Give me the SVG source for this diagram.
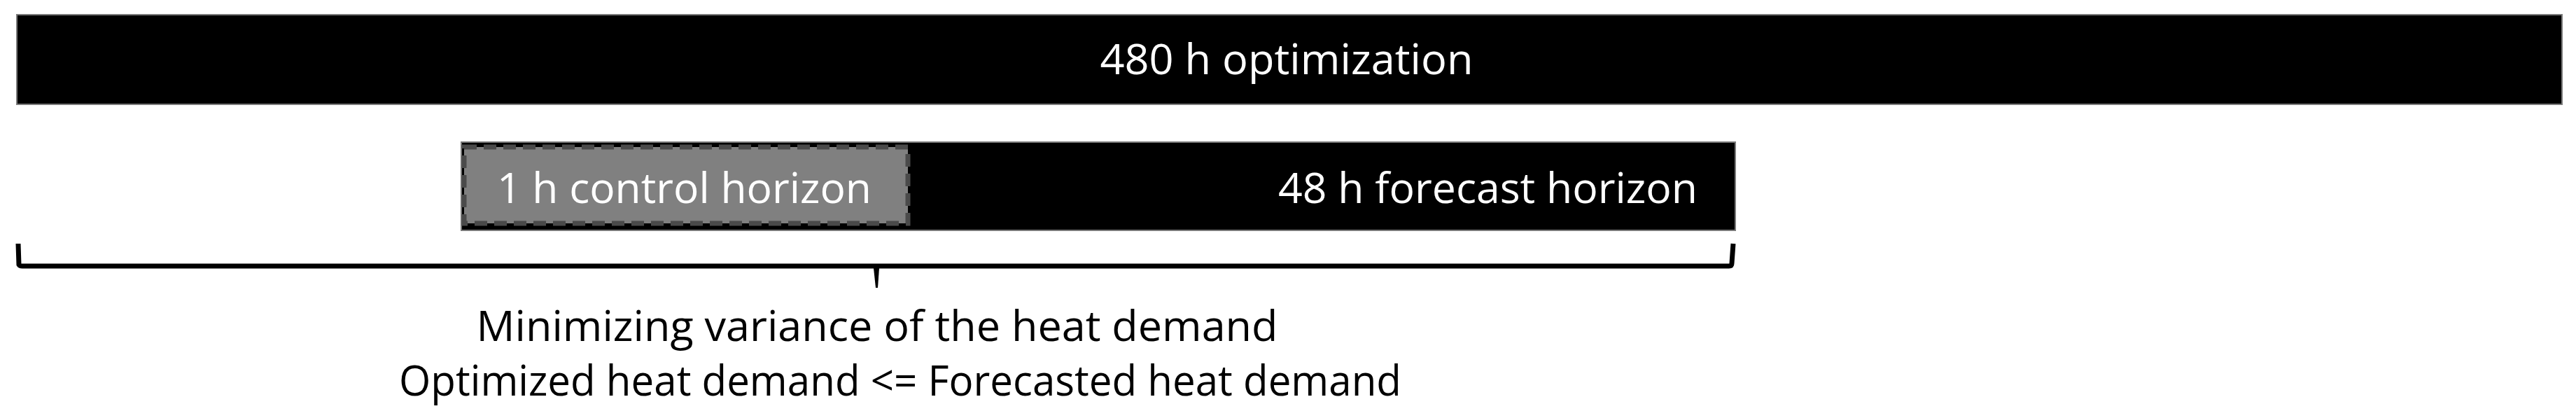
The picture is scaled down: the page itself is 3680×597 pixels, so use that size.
<svg xmlns="http://www.w3.org/2000/svg" width="3680" height="597" viewBox="0 0 3680 597">
<style>
.bar{fill:#000;stroke:#7a7a7a;stroke-width:2}
.wt{fill:#fff;font-family:"Open Sans","Liberation Sans",sans-serif;font-size:60px}
.bt{fill:#000;font-family:"Open Sans","Liberation Sans",sans-serif;font-size:60px}
</style>
<rect width="3680" height="597" fill="#fff"/>
<g id="optimization">
<rect class="bar" x="24" y="21" width="3636" height="128"/>
<text class="wt" x="1838" y="106" text-anchor="middle" textLength="533" lengthAdjust="spacingAndGlyphs">480 h optimization</text>
</g>
<g id="forecast">
<rect class="bar" x="659" y="203" width="1820" height="126" stroke="#aaa"/>
<text class="wt" x="1826" y="290" textLength="599" lengthAdjust="spacingAndGlyphs">48 h forecast horizon</text>
</g>
<g id="control">
<rect x="663" y="210" width="634" height="109" fill="#808080" stroke="#4a4a4a" stroke-width="7" stroke-dasharray="18 10"/>
<text class="wt" x="710" y="290" textLength="535" lengthAdjust="spacingAndGlyphs">1 h control horizon</text>
</g>
<g id="connectors">
<path d="M26,348 L27,378 Q28,380 32,380 L2470,380 Q2474,380 2474,376 L2476,348" fill="none" stroke="#000" stroke-width="7"/>
<path d="M1248,383 L1256,383 L1254,411 L1251,411 Z" fill="#000"/>
</g>
<g id="objective">
<text class="bt" x="1253" y="487" text-anchor="middle" textLength="1145" lengthAdjust="spacingAndGlyphs">Minimizing variance of the heat demand</text>
<text class="bt" x="1286" y="565" text-anchor="middle" textLength="1432" lengthAdjust="spacingAndGlyphs">Optimized heat demand &lt;= Forecasted heat demand</text>
</g>
</svg>
